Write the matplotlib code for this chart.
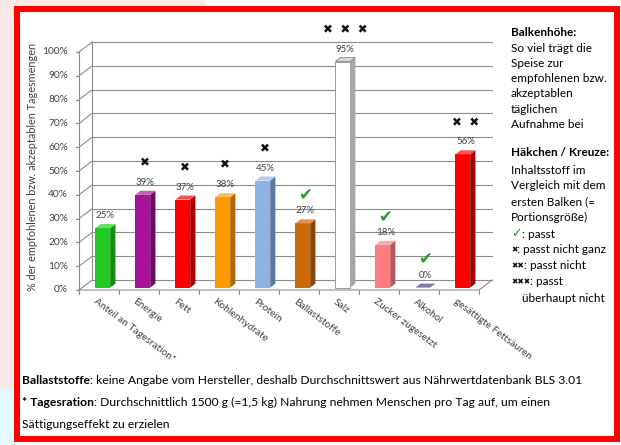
import matplotlib
matplotlib.use("Agg")
import matplotlib.pyplot as plt
from matplotlib.patches import Polygon, Rectangle

categories = ["Anteil an Tagesration*", "Energie", "Fett", "Kohlenhydrate", "Protein",
              "Ballaststoffe", "Salz", "Zucker zugesetzt", "Alkohol", "gesättigte Fettsäuren"]
values = [25, 39, 37, 38, 45, 27, 95, 18, 0, 56]
# "" = reference bar, "ok" = check mark, n = number of crosses
ratings = ["", 1, 1, 1, 1, "ok", 3, "ok", "ok", 2]
yticks = list(range(0, 101, 10))

face_colors = ["#22c922", "#a8139a", "#ff0000", "#ff9a00", "#8db3e2",
               "#cc6a0a", "#ffffff", "#ff7b80", "#8585b0", "#ff0000"]
side_colors = ["#118a11", "#6b0a62", "#a80000", "#b06800", "#5b7aa3",
               "#8a4604", "#a6a6a6", "#b8585c", "#6a6a90", "#a00000"]
top_colors = ["#5fe05f", "#c457b8", "#ff5050", "#ffbb50", "#b5cdec",
              "#e09050", "#d9d9d9", "#ffa5a8", "#7f7fa8", "#ff5050"]

TXT = "#404040"
GRID = "#8c8c8c"
FONT = "Lato"

fig = plt.figure(figsize=(6.21, 4.45), dpi=100)
bg = fig.add_axes([0, 0, 1, 1])
bg.set_xlim(0, 621)
bg.set_ylim(445, 0)
bg.axis("off")

# page background and red frame
bg.add_patch(Rectangle((0, 0), 205, 8, color="#fde8e8", lw=0))
bg.add_patch(Rectangle((0, 0), 15, 388, color="#fde8e8", lw=0))
bg.add_patch(Rectangle((0, 388), 15, 57, color="#e4f9fc", lw=0))
bg.add_patch(Rectangle((16.5, 9), 600, 429.5, fill=False, ec="#ff0000", lw=4.3))

ax = fig.add_axes([79 / 621, 155 / 445, 400 / 621, 238 / 445])
ax.set_xlim(0, 10)
ax.set_ylim(0, 100)
ax.axis("off")

# pseudo 3D walls: back offset and bar geometry in data units
DX, DY = 0.33, 4.2
BX, BY = 0.08, 1.0
SX, SY = 0.13, 1.7
W = 0.37

for v in yticks:
    ax.plot([DX, 10 + DX], [v + DY, v + DY], color=GRID, lw=0.8, clip_on=False)
    ax.plot([0, DX], [v, v + DY], color=GRID, lw=0.8, clip_on=False)
    ax.plot([-0.08, 0], [v, v], color=GRID, lw=0.8, clip_on=False)
    ax.text(-0.27, v, f"{v}%", ha="right", va="center", fontsize=7.3, color=TXT, family=FONT)
ax.plot([DX, DX], [DY, 100 + DY], color=GRID, lw=0.8, clip_on=False)
ax.plot([0, 0], [0, 100], color=GRID, lw=0.8, clip_on=False)
ax.plot([0, 10, 10 + DX], [0, 0, DY], color=GRID, lw=0.8, clip_on=False)
for i in range(len(categories) + 1):
    ax.plot([i, i], [0, -1.5], color=GRID, lw=0.8, clip_on=False)

for i, (name, v) in enumerate(zip(categories, values)):
    x0 = i + 0.33 + BX
    edge = "#8c8c8c" if face_colors[i] == "#ffffff" else "none"
    if v > 0:
        ax.bar(x0 + W / 2, v, width=W, bottom=BY, color=face_colors[i], edgecolor=edge,
               lw=0.6, zorder=3, clip_on=False)
        ax.add_patch(Polygon([(x0 + W, BY), (x0 + W + SX, BY + SY), (x0 + W + SX, BY + v + SY),
                              (x0 + W, BY + v)], closed=True, fc=side_colors[i], ec="none",
                             zorder=3, clip_on=False))
    ax.add_patch(Polygon([(x0, BY + v), (x0 + SX, BY + v + SY), (x0 + W + SX, BY + v + SY),
                          (x0 + W, BY + v)], closed=True, fc=top_colors[i], ec=edge, lw=0.6,
                         zorder=3, clip_on=False))
    cx = x0 + W / 2 + SX / 2
    ax.annotate(f"{v}%", xy=(cx, BY + v), xytext=(0, 9), textcoords="offset points",
                ha="center", va="center", fontsize=7, color=TXT, family=FONT)
    r = ratings[i]
    if r == "ok":
        ax.annotate("✔", xy=(cx, BY + v), xytext=(0, 20), textcoords="offset points",
                    ha="center", va="center", fontsize=12, color="#2a9a2a")
    elif r:
        ax.annotate("  ".join(["✖"] * r), xy=(cx, BY + v), xytext=(0, 23),
                    textcoords="offset points", ha="center", va="center", fontsize=8.5,
                    color="#111111")
    ax.text(i + 0.45, -3, name, rotation=-37, ha="left", va="top", rotation_mode="anchor",
            fontsize=7.3, color=TXT, family=FONT)

bg.text(33, 167, "% der empfohlenen bzw. akzeptablen Tagesmengen", rotation=90,
        ha="center", va="center", fontsize=7.8, color=TXT, family=FONT)

# explanation block on the right
RX = 511
FS = 8.5
bg.text(RX, 33, "Balkenhöhe:", fontsize=FS, fontweight="bold", va="center", family=FONT)
for k, line in enumerate(["So viel trägt die", "Speise zur", "empfohlenen bzw.",
                          "akzeptablen", "täglichen", "Aufnahme bei"]):
    bg.text(RX, 48 + 15.3 * k, line, fontsize=FS, va="center", family=FONT)
bg.text(RX, 153, "Häkchen / Kreuze:", fontsize=FS, fontweight="bold", va="center", family=FONT)
for k, line in enumerate(["Inhaltsstoff im", "Vergleich mit dem", "ersten Balken (=",
                          "Portionsgröße)"]):
    bg.text(RX, 170 + 15.9 * k, line, fontsize=FS, va="center", family=FONT)
legend_rows = [("✓", "#2a9a2a", 9, ": passt"), ("✖", "#111111", 5.5, ": passt nicht ganz"),
               ("✖✖", "#111111", 5.5, ": passt nicht"), ("✖✖✖", "#111111", 5.5, ": passt")]
for k, (sym, col, sz, rest) in enumerate(legend_rows):
    s = bg.text(RX, 234 + 15.9 * k, sym, fontsize=sz, color=col, va="center")
    bg.annotate(rest, xy=(1, 0.5), xycoords=s, ha="left", va="center", fontsize=FS, family=FONT)
bg.text(RX + 11, 298, "überhaupt nicht", fontsize=FS, va="center", family=FONT)

# footnotes
FN = 8.7
b1 = bg.text(22, 381, "Ballaststoffe", fontsize=FN, fontweight="bold", va="center", family=FONT)
bg.annotate(": keine Angabe vom Hersteller, deshalb Durchschnittswert aus Nährwertdatenbank BLS 3.01",
            xy=(1, 0), xycoords=b1, ha="left", va="bottom", fontsize=FN, family=FONT)
b2 = bg.text(22, 403, "* Tagesration", fontsize=FN, fontweight="bold", va="center", family=FONT)
bg.annotate(": Durchschnittlich 1500 g (=1,5 kg) Nahrung nehmen Menschen pro Tag auf, um einen",
            xy=(1, 0), xycoords=b2, ha="left", va="bottom", fontsize=FN, family=FONT)
bg.text(22, 424, "Sättigungseffekt zu erzielen", fontsize=FN, va="center", family=FONT)

fig.savefig("out.png", dpi=100)
